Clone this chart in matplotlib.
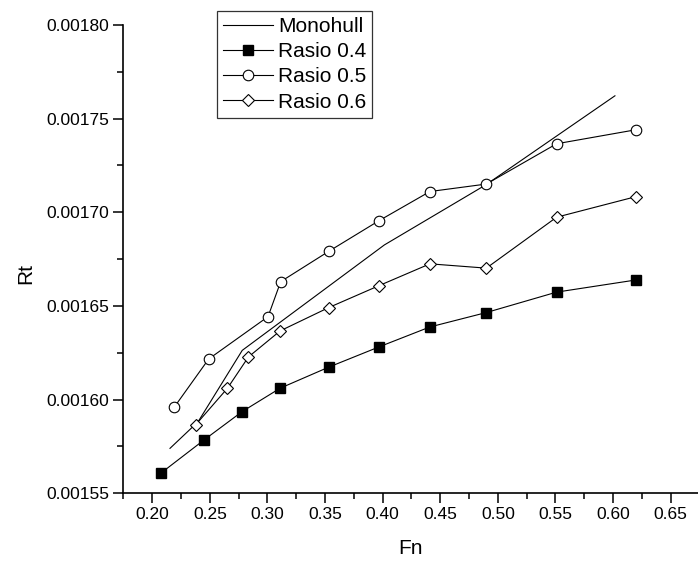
import matplotlib
matplotlib.use('Agg')
import matplotlib.pyplot as plt
from matplotlib.ticker import MultipleLocator, FormatStrFormatter

plt.rcParams['font.family'] = ['Liberation Sans', 'DejaVu Sans']

# monohull curve
fn_mono = [0.2154, 0.2398, 0.2781, 0.4015, 0.4896, 0.6016]
rt_mono = [0.001574, 0.0015882, 0.0016263, 0.0016826, 0.0017147, 0.0017622]

# rasio 0.4
fn_04 = [0.208, 0.245, 0.278, 0.311, 0.353, 0.397, 0.441, 0.490, 0.551, 0.620]
rt_04 = [0.001561, 0.0015785, 0.0015936, 0.0016061, 0.0016173,
         0.0016282, 0.0016388, 0.0016465, 0.0016574, 0.0016639]

# rasio 0.5
fn_05 = [0.219, 0.249, 0.3005, 0.3115, 0.353, 0.397, 0.441, 0.490, 0.551, 0.620]
rt_05 = [0.0015959, 0.0016217, 0.0016443, 0.001663, 0.0016791,
         0.0016956, 0.0017111, 0.0017151, 0.0017366, 0.0017441]

# rasio 0.6
fn_06 = [0.2376, 0.2653, 0.2835, 0.311, 0.353, 0.397, 0.441, 0.490, 0.551, 0.620]
rt_06 = [0.0015865, 0.0016061, 0.0016228, 0.0016367, 0.0016491,
         0.0016609, 0.0016725, 0.0016702, 0.0016974, 0.0017084]

fig = plt.figure(figsize=(6.98, 5.61), dpi=100)
ax = fig.add_axes([123.45 / 698, 1 - 493.3 / 561, (698 - 123.45) / 698, 468.3 / 561])

lw = 0.8
ax.plot(fn_mono, rt_mono, color='black', lw=lw, label='Monohull')
ax.plot(fn_04, rt_04, color='black', lw=lw, marker='s', ms=6.8,
        mfc='black', mec='black', label='Rasio 0.4')
ax.plot(fn_05, rt_05, color='black', lw=lw, marker='o', ms=7.6,
        mfc='white', mec='black', mew=0.8, label='Rasio 0.5')
ax.plot(fn_06, rt_06, color='black', lw=lw, marker='D', ms=6.6,
        mfc='white', mec='black', mew=0.8, label='Rasio 0.6')

ax.set_xlim(0.175, 0.6737)
ax.set_ylim(0.00155, 0.00180)

ax.xaxis.set_major_locator(MultipleLocator(0.05))
ax.xaxis.set_minor_locator(MultipleLocator(0.025))
ax.yaxis.set_major_locator(MultipleLocator(0.00005))
ax.yaxis.set_minor_locator(MultipleLocator(0.000025))
ax.xaxis.set_major_formatter(FormatStrFormatter('%.2f'))
ax.yaxis.set_major_formatter(FormatStrFormatter('%.5f'))

ax.spines['top'].set_visible(False)
ax.spines['right'].set_visible(False)
for s in ['left', 'bottom']:
    ax.spines[s].set_linewidth(1.2)

ax.tick_params(which='major', direction='out', length=7, width=1.1,
               labelsize=12.5, pad=3)
ax.tick_params(which='minor', direction='out', length=4, width=1.1)

ax.set_xlabel('Fn', fontsize=15)
ax.set_ylabel('Rt', fontsize=15)
ax.xaxis.set_label_coords(0.5, -0.098)
ax.yaxis.set_label_coords(-0.154, 0.47)

leg = ax.legend(loc='upper left', bbox_to_anchor=(216.7 / 698, 1 - 10.7 / 561),
                bbox_transform=fig.transFigure, fontsize=15, frameon=True,
                fancybox=False, borderaxespad=0, handlelength=2.4,
                handletextpad=0.24, labelspacing=0.3, borderpad=0.3)
leg.get_frame().set_edgecolor('black')
leg.get_frame().set_linewidth(0.9)

plt.savefig('out.png', dpi=100)
